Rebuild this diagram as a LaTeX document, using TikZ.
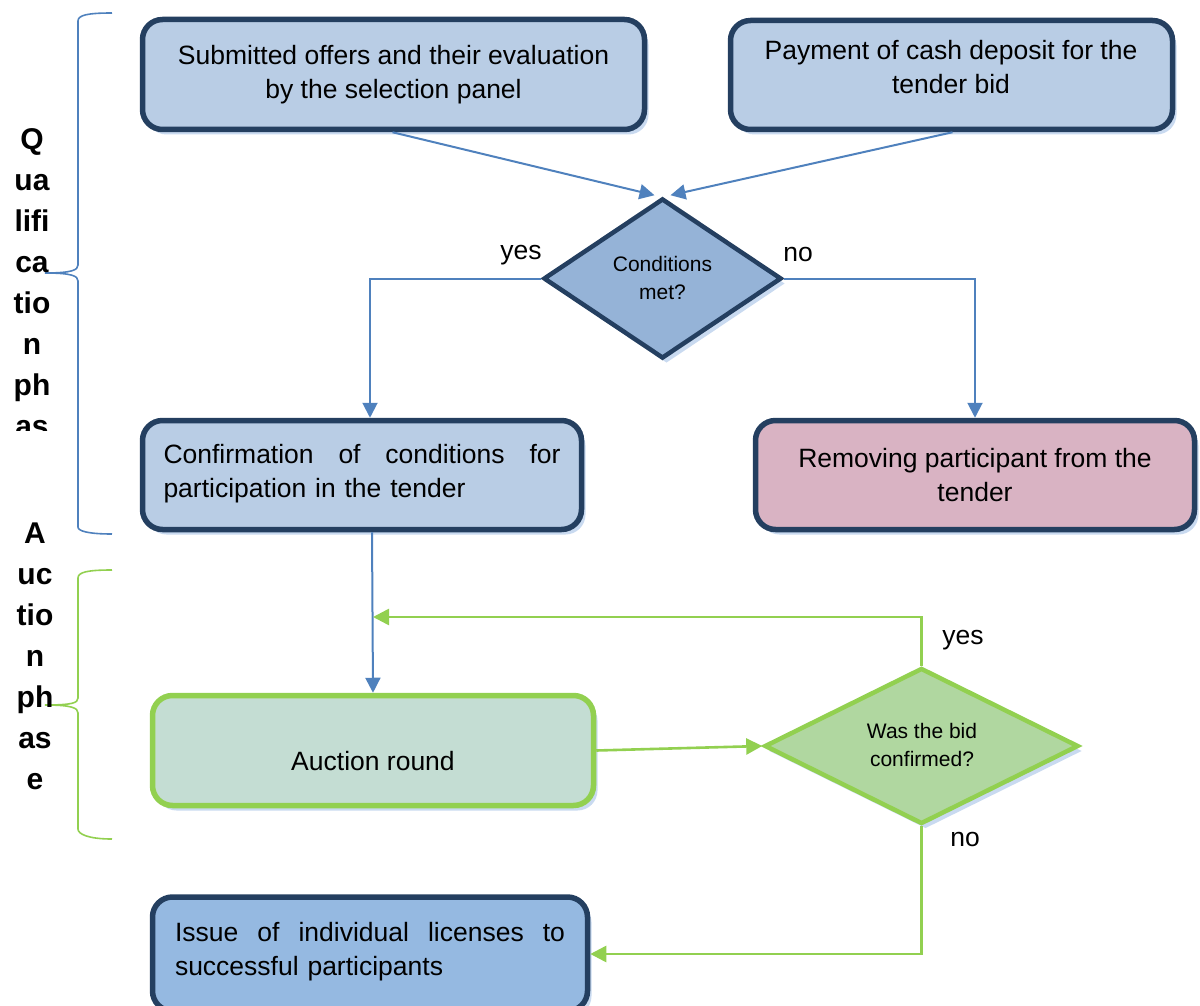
\documentclass[tikz,border=0pt]{standalone}
\usepackage{fontspec}
\setmainfont{Liberation Sans}
\usetikzlibrary{arrows.meta,shapes.geometric,shadows,calc}
\definecolor{navy}{HTML}{243F60}
\definecolor{boxblue}{HTML}{B9CDE5}
\definecolor{diablue}{HTML}{95B3D7}
\definecolor{arrblue}{HTML}{4F81BD}
\definecolor{shadowblue}{HTML}{C9DAF0}
\definecolor{pinkfill}{HTML}{D9B3C3}
\definecolor{grn}{HTML}{92D050}
\definecolor{aucfill}{HTML}{C4DDD3}
\definecolor{dia2fill}{HTML}{B0D7A0}
\definecolor{box5fill}{HTML}{95B9E1}
\begin{document}
\begin{tikzpicture}[x=1pt,y=-1pt,
  boxtxt/.style={font=\fontsize{26.5}{34}\selectfont},
  proc/.style={draw=navy, line width=5.5pt, rounded corners=20pt, inner sep=0pt,
    drop shadow={shadow xshift=4pt, shadow yshift=-5pt, fill=shadowblue, opacity=1}},
  gproc/.style={proc, draw=grn},
  dec/.style={shape=diamond, draw=navy, line width=4.5pt, inner sep=0pt,
    drop shadow={shadow xshift=4pt, shadow yshift=-5pt, fill=shadowblue, opacity=1}},
  gdec/.style={dec, draw=grn},
  dectxt/.style={font=\fontsize{21}{28.5}\selectfont, align=center},
  lbl/.style={font=\fontsize{26.5}{34}\selectfont, inner sep=0pt},
  phase/.style={font=\bfseries\fontsize{30}{41}\selectfont, align=center, inner sep=0pt},
  arr/.style={draw=arrblue, line width=2pt, -{Triangle[length=15pt,width=15pt]}},
  garr/.style={draw=grn, line width=2.6pt, -{Triangle[length=16pt,width=16pt]}},
  brace/.style={line width=1.6pt}
]
\useasboundingbox (0,0) rectangle (1200,1006);

% boxes
\node[proc, fill=boxblue, minimum width=502pt, minimum height=110pt,
  boxtxt, align=center] (b1) at (393.5,74.5)
  {Submitted offers and their evaluation\\by the selection panel};
\node[proc, fill=boxblue, minimum width=442pt, minimum height=109pt] (b2) at (951.5,75) {};
\node[boxtxt, align=center, inner sep=0pt] (b2t) at (951,67) {Payment of cash deposit for the\\tender bid};
\node[proc, fill=boxblue, minimum width=439pt, minimum height=109pt] (b3) at (362,475) {};
\node[boxtxt, text width=397pt, align=left, inner sep=0pt] (b3t) at (362,474)
  {\makebox[397pt]{Confirmation\hfill of\hfill conditions\hfill for}\\participation in the tender};
\node[proc, fill=pinkfill, minimum width=439pt, minimum height=109pt,
  boxtxt, align=center] (b4) at (975,475)
  {Removing participant from the\\tender};
\node[gproc, fill=aucfill, minimum width=441pt, minimum height=110pt] (auc) at (373,750.5) {};
\node[boxtxt, inner sep=0pt] (auct) at (373,761) {Auction round};
\node[proc, fill=box5fill, minimum width=435pt, minimum height=114pt] (b5) at (370,954) {};
\node[boxtxt, text width=390pt, align=left, inner sep=0pt] (b5t) at (370,952)
  {\makebox[390pt]{Issue\hfill of\hfill individual\hfill licenses\hfill to}\\successful participants};

% decisions
\node[dec, fill=diablue, minimum width=238pt, minimum height=160pt] (d1) at (662.5,278.5) {};
\node[dectxt] (d1t) at (662.5,278) {Conditions\\met?};
\node[gdec, fill=dia2fill, minimum width=314pt, minimum height=156pt] (d2) at (921.5,746) {};
\node[dectxt] (d2t) at (922,745) {Was the bid\\confirmed?};

% connectors
\coordinate (d1in1) at ($(d1.north)+(-8,-1)$);
\coordinate (d1in2) at ($(d1.north)+(8,-1)$);
\draw[arr] ($(b1.south)+(-1,0)$) -- (d1in1);
\draw[arr] ($(b2.south)+(1,0)$) -- (d1in2);
\draw[arr] (d1.west) -| ($(b3.north)+(8,0)$);
\draw[arr] (d1.east) -| (b4.north);
\draw[arr] ($(b3.south)+(10,0)$) -- (auc.north);
\coordinate (loopend) at (373,617);
\draw[garr] (d2.north) |- (loopend);
\draw[garr] (auc.east) -- (d2.west);
\draw[garr] (d2.south) |- (b5.east);

% labels
\node[lbl] (ly1) at (521,255) {yes};
\node[lbl] (ln1) at (798,254) {no};
\node[lbl] (ly2) at (963,640) {yes};
\node[lbl] (ln2) at (965,839) {no};

% braces
\draw[brace, draw=arrblue] (112,13) .. controls (88,13) and (78,15) .. (78,21) -- (78,265)
  .. controls (78,270) and (72,273) .. (45,273)
  .. controls (72,273) and (78,276) .. (78,281) -- (78,527)
  .. controls (78,531) and (88,534) .. (112,534);
\draw[brace, draw=grn] (112,570) .. controls (88,570) and (78,572) .. (78,578) -- (78,698)
  .. controls (78,703) and (72,705) .. (45,705)
  .. controls (72,705) and (78,708) .. (78,713) -- (78,829)
  .. controls (78,834) and (88,839) .. (112,839);

% phase texts
\begin{scope}
\clip (0,100) rectangle (130,430);
\node[phase] (qp) at (32,283) {Q\\ua\\lifi\\ca\\tio\\n\\ph\\as};
\end{scope}
\node[phase] (ap) at (35,656) {A\\uc\\tio\\n\\ph\\as\\e};
\end{tikzpicture}
\end{document}
